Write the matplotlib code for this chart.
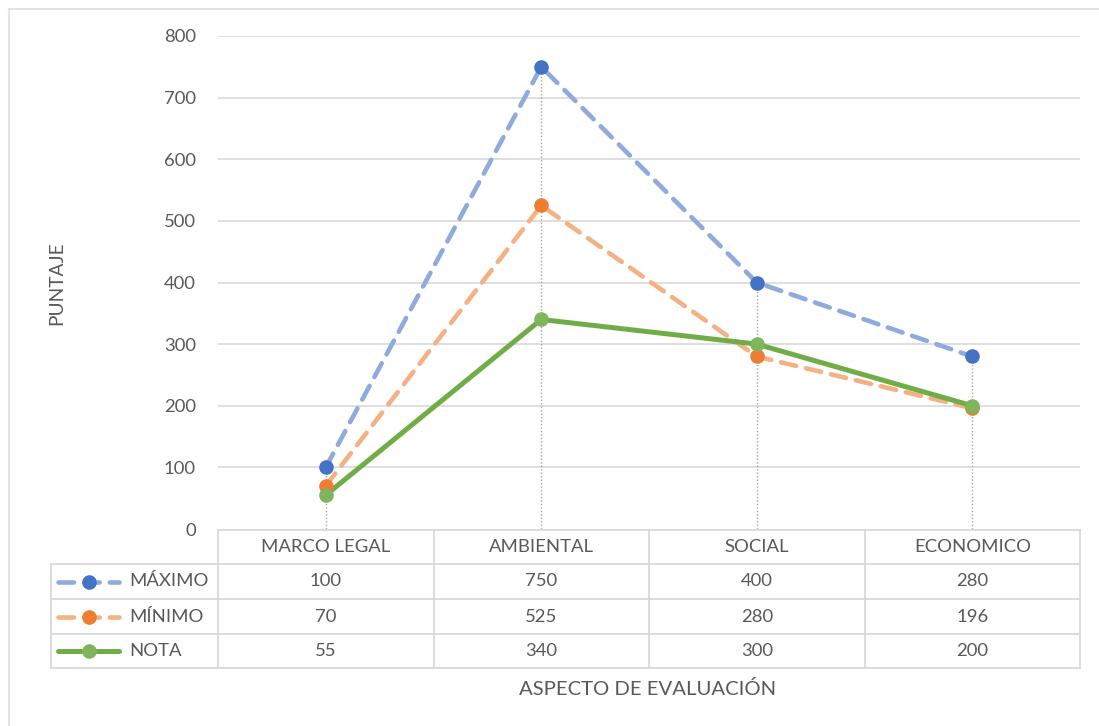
import matplotlib
matplotlib.use("Agg")
import matplotlib.pyplot as plt
from matplotlib.lines import Line2D

categories = ["MARCO LEGAL", "AMBIENTAL", "SOCIAL", "ECONOMICO"]
series_names = ["MÁXIMO", "MÍNIMO", "NOTA"]
maximo = [100, 750, 400, 280]
minimo = [70, 525, 280, 196]
nota = [55, 340, 300, 200]
y_ticks = [0, 100, 200, 300, 400, 500, 600, 700, 800]

plt.rcParams["font.family"] = ["Lato", "DejaVu Sans"]
TXT = "#595959"
GRID = "#D9D9D9"
FS = 13.3

W, H = 1099, 726
fig = plt.figure(figsize=(W / 100, H / 100), dpi=100)
fig.patch.set_facecolor("white")


def fx(px):
    return px / W


def fy(py):
    return 1 - py / H


# chart-area border (top and left edges)
fig.add_artist(Line2D([fx(9), 1], [fy(9), fy(9)], color="#E4E4E4", lw=1.5))
fig.add_artist(Line2D([fx(9), fx(9)], [fy(9), 0], color="#E4E4E4", lw=1.5))

# plot area
x0, x1, ytop, ybot = 218, 1080, 36, 529
ax = fig.add_axes([fx(x0), fy(ybot), fx(x1) - fx(x0), fy(ytop) - fy(ybot)])
n = len(categories)
xs = list(range(n))
ax.set_xlim(-0.5, n - 0.5)
ax.set_ylim(0, 800)
ax.set_yticks(y_ticks)
ax.set_yticklabels([str(v) for v in y_ticks], color=TXT, fontsize=FS)
ax.tick_params(axis="y", length=0, pad=16)
ax.set_xticks([])
for s in ax.spines.values():
    s.set_visible(False)
for v in y_ticks[1:]:
    ax.axhline(v, color=GRID, lw=1.2, zorder=0)

# drop lines from the highest point of each category
tops = [max(a, b, c) for a, b, c in zip(maximo, minimo, nota)]
for x, t in zip(xs, tops):
    ax.plot([x, x], [0, t], color="#A6A6A6", lw=1, ls=(0, (1, 1.5)), zorder=1)

styles = [
    dict(lc="#8FAADC", mc="#4472C4", ls=(0, (3.4, 2.2)), lw=3.3),
    dict(lc="#F4B183", mc="#ED7D31", ls=(0, (3.4, 2.2)), lw=3.3),
    dict(lc="#70AD47", mc="#7FB55C", ls="-", lw=3.6),
]
data = [maximo, minimo, nota]
for vals, st in zip(data, styles):
    ax.plot(xs, vals, color=st["lc"], ls=st["ls"], lw=st["lw"], zorder=3,
            solid_capstyle="round", dash_capstyle="round")
    ax.plot(xs, vals, ls="none", marker="o", ms=9.5, mfc=st["mc"],
            mec=st["mc"], zorder=4)

fig.text(fx(57), fy(283), "PUNTAJE", rotation=90, ha="center", va="center",
         color=TXT, fontsize=13.8)

# data table
tl, tr = 51, 1080
row_edges = [530, 564, 599, 634, 668]
col_w = (x1 - x0) / n
TB = "#D9D9D9"
fig.add_artist(Line2D([fx(x0), fx(tr)], [fy(row_edges[0])] * 2, color=TB, lw=1.3))
for r in row_edges[1:]:
    fig.add_artist(Line2D([fx(tl), fx(tr)], [fy(r)] * 2, color=TB, lw=1.3))
fig.add_artist(Line2D([fx(tl), fx(tl)], [fy(row_edges[1]), fy(row_edges[-1])], color=TB, lw=1.3))
for i in range(n + 1):
    xp = x0 + i * col_w
    fig.add_artist(Line2D([fx(xp), fx(xp)], [fy(row_edges[0]), fy(row_edges[-1])], color=TB, lw=1.3))

for i, c in enumerate(categories):
    xc = x0 + (i + 0.5) * col_w
    yc = (row_edges[0] + row_edges[1]) / 2
    fig.text(fx(xc), fy(yc), c, ha="center", va="center", color=TXT, fontsize=FS)

for r, (name, vals, st) in enumerate(zip(series_names, data, styles)):
    yc = (row_edges[r + 1] + row_edges[r + 2]) / 2
    for i, v in enumerate(vals):
        xc = x0 + (i + 0.5) * col_w
        fig.text(fx(xc), fy(yc), str(v), ha="center", va="center", color=TXT, fontsize=FS)
    # legend key
    fig.add_artist(Line2D([fx(58), fx(119)], [fy(yc)] * 2, color=st["lc"], ls=st["ls"],
                          lw=st["lw"], solid_capstyle="round", dash_capstyle="round"))
    fig.add_artist(Line2D([fx(89)], [fy(yc)], ls="none", marker="o", ms=9.5,
                          mfc=st["mc"], mec=st["mc"]))
    fig.text(fx(129), fy(yc), name, ha="left", va="center", color=TXT, fontsize=FS)

fig.text(fx(648), fy(689), "ASPECTO DE EVALUACIÓN", ha="center", va="center",
         color=TXT, fontsize=14.6)

fig.savefig("out.png", dpi=100, facecolor="white")
